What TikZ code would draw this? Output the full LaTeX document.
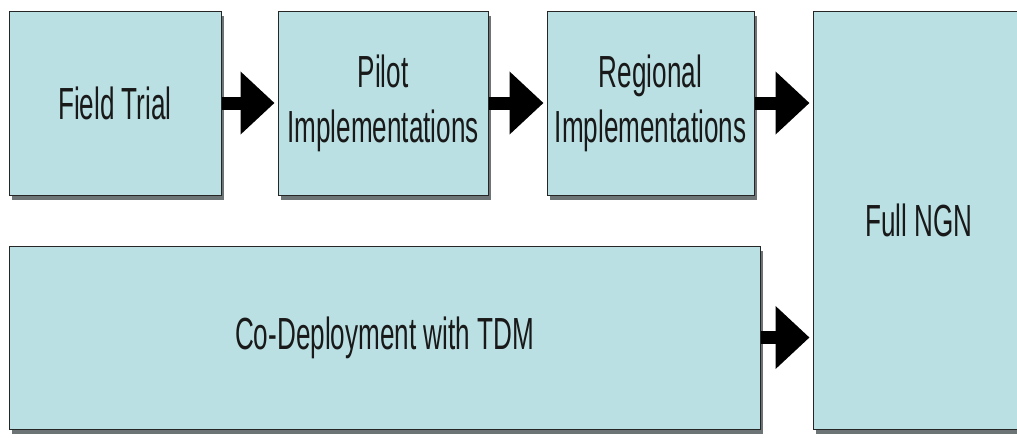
\documentclass[tikz,border=0pt]{standalone}
\usepackage{fontspec}
\setmainfont[FakeStretch=0.58]{Liberation Sans}
\usetikzlibrary{arrows.meta}
\usetikzlibrary{shadows}
\definecolor{stagefill}{RGB}{186,224,227}
\definecolor{stageshadow}{RGB}{108,116,118}

\begin{document}
\begin{tikzpicture}[x=1pt,y=-1pt,
            stage node/.style={rectangle,draw=black!85,line width=1pt,fill=stagefill,
                inner sep=0pt,align=center,text=black!90,font=\fontsize{45}{55}\selectfont,
                drop shadow={shadow xshift=3pt,shadow yshift=-5pt,fill=stageshadow,opacity=1}},
            big arrow/.style={line width=13pt,-{Triangle[length=34pt,width=61pt]},shorten >=3pt},
            ]
            \useasboundingbox (0,0) rectangle (1017,437);
            \clip (0,0) rectangle (1017,437);

            \node[stage node, minimum width=212pt, minimum height=184pt] (1) at (115,103) {Field Trial};
            \node[stage node, minimum width=210pt, minimum height=184pt] (2) at (383,103) {Pilot\\Implementations};
            \node[stage node, minimum width=207pt, minimum height=184pt] (3) at (650.5,103) {Regional\\Implementations};
            \node[stage node, minimum width=212pt, minimum height=418pt] (4) at (919,220) {Full NGN};
            \node[stage node, minimum width=751pt, minimum height=183pt] (5) at (384.5,337.5) {Co-Deployment with TDM};

            \draw[big arrow] (1) -- (2);
            \draw[big arrow] (2) -- (3);
            \draw[big arrow] (3.east) -- (3.east -| 4.west);
            \draw[big arrow] (5.east) -- (5.east -| 4.west);
        \end{tikzpicture}
\end{document}
